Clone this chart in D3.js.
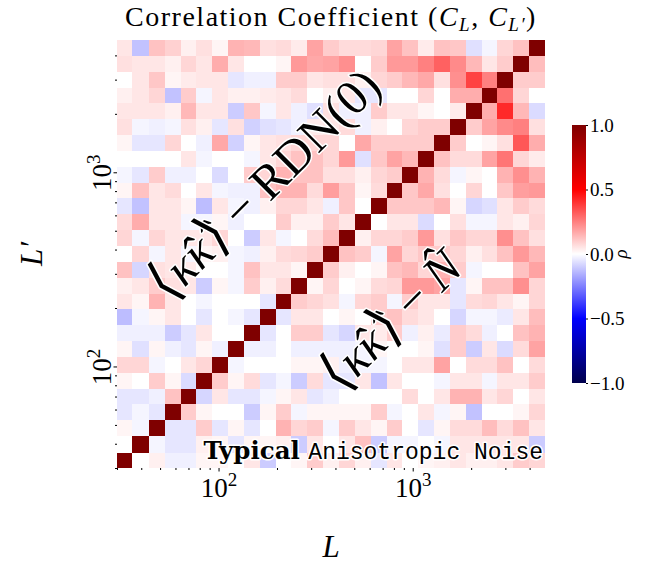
<!DOCTYPE html>
<html lang="en">
<head>
<meta charset="UTF-8">
<title>Correlation Coefficient</title>
<script src="https://cdn.jsdelivr.net/npm/d3@7"></script>
<style>
  body { margin: 0; background: #fff; }
  text { font-family: "Liberation Serif", "DejaVu Serif", serif; fill: #000; }
</style>
</head>
<body>
<script>
// L bin edges (log spaced), same binning on both axes
const lEdges = [30, 36, 44, 53, 64, 77, 93, 112, 135, 163, 197, 237, 286, 345, 417,
  503, 607, 733, 884, 1067, 1288, 1554, 1876, 2263, 2732, 3296, 3978, 4800];

// rho(L, L'): one row per L' bin, top row (largest L') first, columns = L bins
// upper triangle = <kk> - RDN(0), lower triangle = <kk> - N
const rhoRows = [
  [0.05, -0.12, 0.12, 0.09, 0.03, 0.06, 0.02, 0.15, 0.14, 0.06, 0.07, 0.04, 0.18, 0.10, 0.07, 0.07, 0.08, 0.18, 0.12, 0.04, 0.12, 0.11, -0.06, -0.02, 0.08, 0.12, 1],
  [0.06, 0.05, 0.05, 0.03, 0.08, 0.05, 0.16, 0.05, 0.0, 0.0, 0.02, 0.2, 0.17, 0.18, 0.22, 0.0, 0.1, 0.2, 0.2, 0.25, 0.31, 0.23, 0.14, 0.05, 0.1, 1, 0.13],
  [0.0, 0.05, 0.11, 0.02, 0.04, 0.05, 0.05, -0.05, -0.03, -0.03, 0.1, 0.1, 0.05, 0.06, 0.06, 0.03, 0.08, 0.1, 0.14, 0.17, 0.06, 0.22, 0.37, 0.25, 1, 0.1, 0.1],
  [0.03, 0.05, 0.08, -0.12, 0.1, -0.02, 0.05, 0.03, 0.03, 0.04, 0.05, 0.07, 0.0, 0.03, 0.05, -0.05, -0.05, 0.0, 0.0, 0.08, 0.0, 0.16, 0.16, 1, 0.28, 0.08, 0.0],
  [0.05, 0.05, 0.05, 0.03, 0.14, 0.05, 0.05, -0.1, 0.11, -0.02, 0.05, -0.03, -0.06, 0.06, -0.03, -0.03, 0.1, 0.05, 0.05, 0.02, 0.0, 0.04, 1, 0.16, 0.42, 0.14, -0.07],
  [0.06, -0.02, -0.03, -0.02, 0.06, 0.03, -0.05, 0.06, -0.09, -0.06, -0.05, -0.03, 0.04, 0.05, 0.07, -0.03, 0.03, 0.0, 0.08, 0.1, 0.1, 1, 0.1, 0.18, 0.23, 0.25, 0.06],
  [0.02, -0.05, -0.05, 0.08, 0.0, -0.03, 0.17, -0.09, 0.02, 0.05, 0.06, 0.08, 0.08, 0.08, 0.0, 0.17, 0.1, 0.1, 0.1, 0.1, 1, 0.1, 0.0, 0.02, 0.06, 0.33, 0.16],
  [0.0, 0.0, 0.0, 0.0, 0.05, -0.02, 0.0, 0.0, -0.02, 0.05, 0.08, 0.12, 0.12, 0.08, 0.2, -0.06, 0.11, 0.18, 0.14, 1, 0.12, 0.07, 0.07, 0.18, 0.27, 0.08, 0.04],
  [-0.02, -0.05, 0.1, -0.03, -0.03, 0.0, -0.07, 0.0, 0.1, 0.08, 0.15, 0.12, 0.12, 0.06, 0.06, 0.03, 0.08, 0.1, 1, 0.15, 0.07, -0.02, 0.02, 0.0, 0.15, 0.22, 0.15],
  [0.02, 0.12, 0.05, 0.07, 0.0, 0.05, -0.02, -0.03, -0.03, 0.12, 0.15, 0.15, 0.07, 0.19, 0.11, 0.02, 0.07, 1, 0.11, 0.17, 0.06, 0.0, 0.08, 0.0, 0.11, 0.19, 0.2],
  [-0.05, -0.12, 0.05, 0.05, 0.02, -0.13, 0.05, -0.02, -0.03, 0.03, 0.08, 0.08, 0.05, -0.03, 0.11, 0.0, 1, 0.11, 0.11, 0.11, 0.14, 0.02, -0.08, -0.06, 0.05, 0.1, 0.07],
  [0.07, 0.16, 0.05, 0.05, -0.02, -0.02, 0.02, -0.03, 0.0, 0.0, 0.1, 0.03, 0.03, 0.1, 0.05, 1, 0.0, 0.05, 0.05, -0.07, 0.0, 0.06, -0.02, -0.02, 0.05, 0.03, 0.08],
  [0.08, -0.02, 0.08, 0.05, 0.05, 0.05, 0.08, 0.0, -0.1, 0.05, -0.02, 0.0, 0.07, 0.13, 1, 0.03, 0.08, 0.08, 0.1, 0.2, 0.06, 0.11, 0.08, 0.08, 0.22, 0.12, 0.06],
  [0.0, 0.08, -0.02, 0.05, -0.02, 0.02, 0.03, -0.02, -0.03, 0.03, 0.07, 0.08, 0.1, 1, 0.12, 0.1, -0.02, 0.18, 0.08, 0.11, 0.1, 0.08, 0.03, 0.06, 0.12, 0.2, 0.14],
  [0.12, -0.08, 0.06, 0.05, 0.04, 0.0, 0.0, -0.02, 0.12, 0.05, 0.05, 0.02, 1, 0.1, 0.03, 0.0, 0.02, 0.12, 0.14, 0.08, 0.15, 0.1, -0.02, 0.0, 0.0, 0.12, 0.18],
  [0.03, 0.05, 0.1, 0.06, 0.05, -0.1, 0.02, -0.02, 0.1, 0.03, 0.07, 1, 0.02, 0.08, 0.0, 0.02, 0.07, 0.08, 0.2, 0.2, 0.18, -0.05, 0.02, 0.12, 0.12, 0.22, 0.08],
  [0.05, 0.02, 0.15, 0.05, 0.0, -0.02, 0.0, 0.0, 0.0, -0.05, 1, 0.1, 0.08, 0.06, -0.02, 0.08, 0.1, -0.02, 0.1, 0.05, 0.05, -0.05, 0.07, 0.08, 0.05, 0.02, 0.08],
  [-0.13, -0.02, 0.02, 0.05, 0.0, -0.05, 0.0, -0.02, -0.05, 1, -0.05, 0.05, 0.05, 0.0, 0.02, 0.0, 0.1, 0.12, 0.07, 0.05, 0.0, -0.08, -0.02, -0.02, -0.04, 0.05, 0.13],
  [-0.03, -0.03, -0.03, -0.1, -0.05, 0.05, 0.0, 0.0, 1, -0.05, 0.0, 0.1, 0.1, -0.05, -0.08, 0.05, 0.04, 0.1, -0.03, 0.03, -0.04, 0.1, 0.07, -0.03, 0.0, 0.12, 0.15],
  [0.02, -0.06, 0.02, -0.03, -0.05, 0.02, -0.03, 1, -0.03, -0.03, 0.0, -0.03, -0.03, -0.03, -0.03, -0.02, 0.02, 0.0, 0.0, 0.02, -0.06, 0.1, -0.1, 0.05, -0.07, 0.07, 0.18],
  [0.08, 0.08, -0.02, 0.0, 0.05, 0.08, 1, -0.02, 0.0, 0.0, 0.0, 0.02, 0.02, 0.03, -0.03, -0.02, -0.02, 0.0, 0.05, 0.05, 0.18, 0.0, 0.07, 0.07, 0.12, 0.0, 0.07],
  [0.02, 0.0, 0.1, 0.02, -0.07, 1, 0.1, 0.02, 0.07, -0.05, -0.02, -0.1, 0.07, -0.05, -0.05, 0.05, -0.12, 0.05, 0.0, 0.0, -0.02, 0.05, 0.05, -0.02, 0.05, 0.05, 0.1],
  [-0.05, -0.05, -0.03, 0.12, 1, -0.08, 0.05, -0.05, -0.05, -0.02, 0.02, 0.05, -0.05, -0.03, 0.0, 0.0, 0.0, 0.0, 0.07, 0.0, 0.05, 0.15, 0.15, 0.05, 0.08, 0.0, 0.05],
  [-0.05, -0.02, -0.05, 1, 0.1, 0.02, 0.0, 0.0, -0.1, 0.02, 0.1, -0.02, 0.02, 0.02, 0.02, 0.02, 0.1, -0.02, 0.0, 0.05, -0.02, 0.02, -0.12, 0.0, 0.0, 0.02, 0.08],
  [0.02, -0.02, 1, -0.05, -0.05, 0.1, -0.05, 0.02, -0.05, 0.0, 0.15, 0.08, 0.1, -0.02, 0.1, 0.05, 0.02, 0.1, 0.0, -0.05, 0.02, 0.07, 0.07, 0.13, 0.07, 0.12, 0.05],
  [0.0, 1, -0.02, -0.05, -0.05, 0.03, 0.02, -0.05, 0.02, 0.02, 0.03, -0.1, 0.05, 0.0, 0.05, 0.12, -0.1, -0.02, -0.02, 0.0, -0.02, 0.05, 0.05, 0.05, 0.05, 0.05, -0.1],
  [1, 0.0, 0.03, -0.03, -0.03, 0.02, 0.02, 0.0, 0.05, -0.1, 0.0, 0.02, 0.1, 0.03, 0.08, 0.03, -0.05, 0.05, 0.0, 0.02, 0.03, 0.05, 0.03, 0.03, 0.05, 0.1, 0.08]
];

const majorTicks = [100, 1000];
const minorTicks = [30, 40, 50, 60, 70, 80, 90, 200, 300, 400, 500, 600, 700, 800, 900, 2000, 3000, 4000];
const cbarTicks = [1, 0.5, 0, -0.5, -1];

// matplotlib "seismic"
const seismicStops = [-1, -0.5, 0, 0.5, 1];
const seismicColors = ['#00004c', '#0000ff', '#ffffff', '#ff0000', '#7f0000'];

const width = 672;
const height = 569;
const box = { left: 117, right: 545, top: 40, bottom: 468 };

const svg = d3.select('body').append('svg')
  .attr('width', width)
  .attr('height', height);

const xScale = d3.scaleLog()
  .domain([lEdges[0], lEdges[lEdges.length - 1]])
  .range([box.left, box.right]);
const yScale = d3.scaleLog()
  .domain([lEdges[0], lEdges[lEdges.length - 1]])
  .range([box.bottom, box.top]);
const color = d3.scaleLinear()
  .domain(seismicStops)
  .range(seismicColors)
  .interpolate(d3.interpolateRgb)
  .clamp(true);

// flatten into cells
const nBins = lEdges.length - 1;
const cells = [];
rhoRows.forEach((row, r) => {
  const j = nBins - 1 - r; // L' bin index
  row.forEach((v, i) => cells.push({ i, j, v }));
});

svg.append('g')
  .selectAll('rect')
  .data(cells)
  .enter()
  .append('rect')
  .attr('x', d => xScale(lEdges[d.i]))
  .attr('y', d => yScale(lEdges[d.j + 1]))
  .attr('width', d => xScale(lEdges[d.i + 1]) - xScale(lEdges[d.i]))
  .attr('height', d => yScale(lEdges[d.j]) - yScale(lEdges[d.j + 1]))
  .attr('fill', d => color(d.v))
  .attr('shape-rendering', 'crispEdges');

// axes
function styleAxis(g) {
  g.select('.domain').remove();
  g.selectAll('.tick line').attr('stroke', '#000').attr('stroke-width', 1);
}

svg.append('g')
  .attr('transform', `translate(0,${box.bottom})`)
  .call(d3.axisBottom(xScale).tickValues(minorTicks).tickSize(2).tickFormat(''))
  .call(styleAxis);
svg.append('g')
  .attr('transform', `translate(${box.left},0)`)
  .call(d3.axisLeft(yScale).tickValues(minorTicks).tickSize(2).tickFormat(''))
  .call(styleAxis);

const gx = svg.append('g')
  .attr('transform', `translate(0,${box.bottom})`)
  .call(d3.axisBottom(xScale).tickValues(majorTicks).tickSize(3.5).tickFormat(''))
  .call(styleAxis);
gx.selectAll('.tick').append('text')
  .attr('y', 29)
  .attr('text-anchor', 'middle')
  .attr('font-size', 27)
  .text('10')
  .append('tspan')
  .attr('dy', -11)
  .attr('font-size', 19)
  .text(d => Math.round(Math.log10(d)));

const gy = svg.append('g')
  .attr('transform', `translate(${box.left},0)`)
  .call(d3.axisLeft(yScale).tickValues(majorTicks).tickSize(3.5).tickFormat(''))
  .call(styleAxis);
gy.selectAll('.tick').append('text')
  .attr('transform', 'translate(-6,0) rotate(-90)')
  .attr('text-anchor', 'middle')
  .attr('font-size', 27)
  .text('10')
  .append('tspan')
  .attr('dy', -11)
  .attr('font-size', 19)
  .text(d => Math.round(Math.log10(d)));

// axis labels
svg.append('text')
  .attr('x', (box.left + box.right) / 2)
  .attr('y', 557)
  .attr('text-anchor', 'middle')
  .attr('font-size', 31)
  .attr('font-style', 'italic')
  .text('L');

svg.append('text')
  .attr('transform', `translate(42,${(box.top + box.bottom) / 2}) rotate(-90)`)
  .attr('text-anchor', 'middle')
  .attr('font-size', 31)
  .attr('font-style', 'italic')
  .text('L\u2032');

// title
const title = svg.append('text')
  .attr('x', (box.left + box.right) / 2)
  .attr('y', 26)
  .attr('text-anchor', 'middle')
  .attr('font-size', 28)
  .attr('letter-spacing', 1.5);
title.append('tspan').text('Correlation Coefficient (');
title.append('tspan').attr('font-style', 'italic').text('C');
title.append('tspan').attr('font-style', 'italic').attr('font-size', 19).attr('dy', 5).text('L');
title.append('tspan').attr('dy', -5).text(', ');
title.append('tspan').attr('font-style', 'italic').text('C');
title.append('tspan').attr('font-style', 'italic').attr('font-size', 19).attr('dy', 5).text('L\u2032');
title.append('tspan').attr('dy', -5).text(')');

// annotations along the diagonal
function halo(sel) {
  sel.attr('stroke', '#fff')
    .attr('stroke-width', 3)
    .attr('stroke-linejoin', 'round')
    .attr('paint-order', 'stroke');
}

const upper = svg.append('text')
  .attr('transform', 'translate(264,184) rotate(-45)')
  .attr('text-anchor', 'middle')
  .attr('dy', '0.35em')
  .attr('font-size', 49)
  .call(halo);
upper.append('tspan').attr('font-size', 56).text('\u27E8');
upper.append('tspan').attr('font-style', 'italic').text('\u03BA\u0302\u03BA\u0302');
upper.append('tspan').attr('font-size', 56).text('\u27E9');
upper.append('tspan').text(' \u2212 RDN(0)');

const lower = svg.append('text')
  .attr('transform', 'translate(391,320) rotate(-45)')
  .attr('text-anchor', 'middle')
  .attr('dy', '0.35em')
  .attr('font-size', 49)
  .call(halo);
lower.append('tspan').attr('font-size', 56).text('\u27E8');
lower.append('tspan').attr('font-style', 'italic').text('\u03BA\u0302\u03BA\u0302');
lower.append('tspan').attr('font-size', 56).text('\u27E9');
lower.append('tspan').text(' \u2212 ');
lower.append('tspan').attr('font-style', 'italic').text('N\u0302');

// corner label
const note = svg.append('text')
  .attr('x', box.right - 2)
  .attr('y', 459)
  .attr('text-anchor', 'end')
  .call(halo);
note.append('tspan')
  .attr('font-family', '"DejaVu Serif", serif')
  .attr('font-weight', 'bold')
  .attr('font-size', 24.5)
  .text('Typical ');
note.append('tspan')
  .attr('font-family', '"Liberation Mono", monospace')
  .attr('font-size', 23)
  .text('Anisotropic Noise');

// colorbar
const cbar = { x: 572, w: 14, top: 125, bottom: 383 };
const cScale = d3.scaleLinear().domain([-1, 1]).range([cbar.bottom, cbar.top]);

const grad = svg.append('defs').append('linearGradient')
  .attr('id', 'seismic')
  .attr('x1', 0).attr('y1', 1).attr('x2', 0).attr('y2', 0);
grad.selectAll('stop')
  .data(seismicStops)
  .enter()
  .append('stop')
  .attr('offset', d => (d + 1) / 2)
  .attr('stop-color', d => color(d));

svg.append('rect')
  .attr('x', cbar.x)
  .attr('y', cbar.top)
  .attr('width', cbar.w)
  .attr('height', cbar.bottom - cbar.top)
  .attr('fill', 'url(#seismic)');

const gc = svg.append('g')
  .attr('transform', `translate(${cbar.x + cbar.w},0)`)
  .call(d3.axisRight(cScale).tickValues(cbarTicks).tickSize(2).tickPadding(2)
    .tickFormat(d => d3.format('.1f')(d).replace('-', '\u2212')))
  .call(styleAxis);
gc.selectAll('.tick text')
  .attr('font-family', '"Liberation Serif", serif')
  .attr('font-size', 19)
  .attr('fill', '#000');

svg.append('text')
  .attr('transform', `translate(627,${(cbar.top + cbar.bottom) / 2}) rotate(-90)`)
  .attr('text-anchor', 'middle')
  .attr('font-size', 19)
  .attr('font-style', 'italic')
  .text('\u03C1');
</script>
</body>
</html>
